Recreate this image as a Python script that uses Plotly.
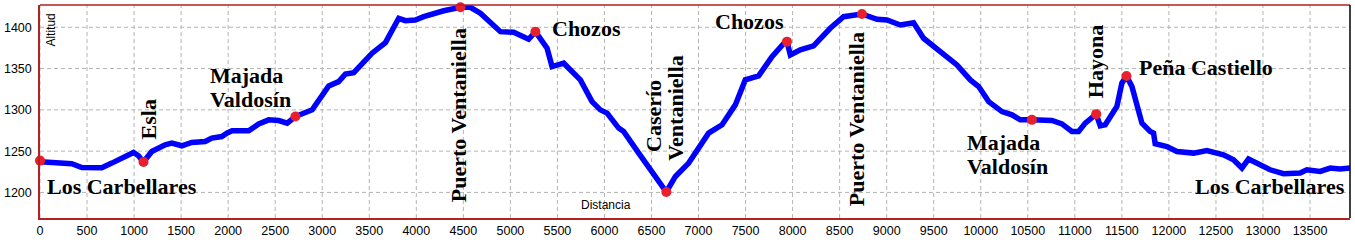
import plotly.graph_objects as go

# Elevation profile (distance in m, altitude in m)
dist = [0, 197, 338, 444, 657, 763, 869, 994, 1047, 1100, 1188, 1330, 1401, 1507, 1613,
        1756, 1826, 1932, 1990, 2042, 2219, 2325, 2431, 2538, 2627, 2715, 2893, 2981,
        3069, 3175, 3247, 3335, 3459, 3530, 3672, 3743, 3813, 3884, 3990, 4079, 4291,
        4469, 4575, 4681, 4894, 5035, 5194, 5266, 5390, 5443, 5567, 5744, 5868, 5956,
        6028, 6151, 6204, 6364, 6541, 6658, 6754, 6895, 7107, 7250, 7391, 7497, 7639,
        7781, 7922, 7940, 7976, 8082, 8223, 8400, 8542, 8737, 8897, 9003, 9145, 9286,
        9392, 9570, 9747, 9889, 9978, 10084, 10226, 10332, 10420, 10544, 10757, 10863,
        10969, 11040, 11111, 11227, 11270, 11323, 11447, 11500, 11549, 11607, 11713,
        11801, 11837, 11854, 11979, 12085, 12262, 12404, 12580, 12687, 12776, 12846,
        12970, 13076, 13218, 13395, 13466, 13608, 13714, 13820, 13926]
alt = [1237, 1235.5, 1234.7, 1230.2, 1230, 1235.5, 1241.6, 1248.4, 1244.4, 1236.8,
       1249.6, 1257.7, 1259.7, 1256.5, 1260.5, 1261.7, 1265.8, 1267.7, 1272, 1274.6,
       1274.6, 1283, 1287.9, 1287, 1283.9, 1291.9, 1300, 1314.1, 1329, 1334.2, 1343.5,
       1345.1, 1360.5, 1368.6, 1381.4, 1394.7, 1410.9, 1408, 1408.8, 1412.8, 1420,
       1424.2, 1424.2, 1417, 1394.7, 1394, 1385.5, 1394.7, 1374.6, 1352.4, 1356.5,
       1336.3, 1310, 1300, 1296, 1277.9, 1273.8, 1247.6, 1219.3, 1200.5, 1219.3,
       1235.5, 1271.8, 1281.9, 1306, 1336.3, 1341.1, 1364.5, 1382.6, 1382.6, 1366.5,
       1372.6, 1377.4, 1398.8, 1412.8, 1416.1, 1409.7, 1408.8, 1402.8, 1405.6, 1386.7,
       1370.5, 1354.4, 1336.3, 1328.2, 1310, 1297.9, 1294, 1287.9, 1287.9, 1287.1,
       1283, 1273.8, 1273.8, 1283.9, 1294.8, 1280.6, 1281.9, 1304, 1332.3, 1341.1,
       1328.2, 1283.9, 1273.8, 1271.8, 1258.9, 1255.6, 1249.6, 1247.6, 1250.8, 1245.6,
       1239.5, 1229.5, 1240.4, 1233.5, 1227.4, 1222.6, 1223.5, 1227.4, 1225.4, 1229.5,
       1228.3, 1229.5]

# Waypoints
mark_x = [0, 1100, 2715, 4469, 5266, 6658, 7940, 8737, 10544, 11227, 11549, 13926]
mark_y = [1238.5, 1236.8, 1291.9, 1424.2, 1394.7, 1200.5, 1382.6, 1416.1, 1287.9,
          1294.8, 1341.1, 1229.5]

x_ticks = list(range(0, 14000, 500))
y_ticks = [1200, 1250, 1300, 1350, 1400]

# Labels: (text, x, y, rotation, xanchor)
labels = [
    ("Los Carbellares", 58, 1207, 0, "left"),
    ("Esla", 1153, 1289, -90, "center"),
    ("Majada", 1791, 1342, 0, "left"),
    ("Valdosín", 1791, 1312, 0, "left"),
    ("Puerto Ventaniella", 4448, 1294, -90, "center"),
    ("Chozos", 5425, 1399, 0, "left"),
    ("Caserío", 6520, 1293, -90, "center"),
    ("Ventaniella", 6754, 1303, -90, "center"),
    ("Chozos", 7157, 1406.5, 0, "left"),
    ("Puerto Ventaniella", 8688, 1289, -90, "center"),
    ("Majada", 9835, 1261, 0, "left"),
    ("Valdosín", 9835, 1231, 0, "left"),
    ("Hayona", 11227, 1358, -90, "center"),
    ("Peña Castiello", 11663, 1351, 0, "left"),
    ("Los Carbellares", 13895, 1207, 0, "right"),
]

GRID = dict(color="#b4b4b4", width=1, dash="4px,3px")

fig = go.Figure()
# dashed grid drawn as layout shapes behind the data, at the tick values
for v in x_ticks:
    fig.add_shape(type="line", xref="x", yref="paper", x0=v, x1=v, y0=0, y1=1,
                  line=GRID, layer="below")
for v in y_ticks:
    fig.add_shape(type="line", xref="paper", yref="y", x0=0, x1=1, y0=v, y1=v,
                  line=GRID, layer="below")

fig.add_trace(go.Scatter(x=dist, y=alt, mode="lines",
                         line=dict(color="#0000ff", width=5.5), hoverinfo="skip"))
fig.add_trace(go.Scatter(x=mark_x, y=mark_y, mode="markers",
                         marker=dict(color="#e8202c", size=10), hoverinfo="skip",
                         cliponaxis=False))

for text, x, y, rot, xa in labels:
    fig.add_annotation(x=x, y=y, xref="x", yref="y", text="<b>" + text + "</b>",
                       showarrow=False, textangle=rot, xanchor=xa, yanchor="middle",
                       font=dict(family="Liberation Serif", size=22, color="black"))

fig.add_annotation(x=0.0084, y=0.88, xref="paper", yref="paper", text="Altitud",
                   showarrow=False, textangle=-90, xanchor="center", yanchor="middle",
                   font=dict(family="Liberation Sans", size=12, color="black"))
fig.add_annotation(x=0.432, y=0.061, xref="paper", yref="paper", text="Distancia",
                   showarrow=False, xanchor="center", yanchor="middle",
                   font=dict(family="Liberation Sans", size=12, color="black"))

# frame lines
fig.add_shape(type="line", xref="paper", yref="paper", x0=0, x1=1, y0=1, y1=1,
              line=dict(color="#b22222", width=1.5))
fig.add_shape(type="line", xref="paper", yref="paper", x0=1, x1=1, y0=0, y1=1,
              line=dict(color="black", width=1.5))

fig.update_layout(
    width=1355, height=247,
    margin=dict(l=40, r=5, t=5, b=29),
    paper_bgcolor="white", plot_bgcolor="white",
    showlegend=False,
    xaxis=dict(range=[0, 13925], tickvals=x_ticks, ticktext=[str(v) for v in x_ticks],
               showgrid=False,
               showline=True, linecolor="#b22222", linewidth=1.5, zeroline=False,
               ticks="", tickfont=dict(family="Liberation Sans", size=12.5, color="black")),
    yaxis=dict(range=[1169, 1427], tickvals=y_ticks, ticktext=[str(v) for v in y_ticks],
               showgrid=False,
               showline=True, linecolor="#b22222", linewidth=1.5, zeroline=False,
               ticks="", ticklabelstandoff=4,
               tickfont=dict(family="Liberation Sans", size=12.5, color="black")),
)

fig.write_html("out.html")
